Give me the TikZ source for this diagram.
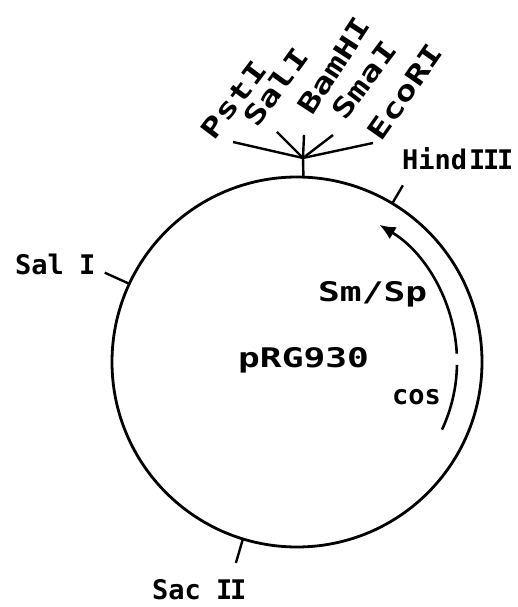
\documentclass[tikz,border=0pt]{standalone}
\usepackage{fontspec}
\usetikzlibrary{arrows.meta}
\newfontfamily\sitefont{DejaVu Sans Mono Bold}
\newfontfamily\widefont{DejaVu Sans Mono Bold}[FakeStretch=1.34]
\newcommand\nI{\makebox[14pt]{I}}

\begin{document}
\begin{tikzpicture}[
  x = 1pt, y = 1pt,
  ring/.style = {draw, circle, line width=2.8pt, minimum size=370pt,
                 inner sep=0pt, outer sep=0pt},
  tick/.style = {draw, line width=2.4pt},
  gene/.style = {draw, line width=2.6pt},
  site/.style = {font=\fontsize{27}{30}\selectfont\sitefont, inner sep=0pt},
  wide/.style = {font=\fontsize{27}{30}\selectfont\widefont, inner sep=0pt},
]

\useasboundingbox (0, 0) rectangle (517, 607);

\node[ring] (plasmid) at (297, 245) {};
\node[wide, anchor=base west] (name) at (238, 239) {pRG930};

% single sites
\node[site, anchor=base west] (hind) at (402, 437) {Hind\kern3pt\nI\nI\nI};
\node[site, anchor=base west] (sal)  at (15, 332)  {Sal\ \nI};
\node[site, anchor=base west] (sac)  at (152, 7)   {Sac\ \nI\nI};
\draw[tick] (plasmid.59.6)  -- ++(59.6:21);
\draw[tick] (plasmid.155.6) -- ++(155.6:27);
\draw[tick] (plasmid.253.7) -- ++(253.7:25);

% polylinker
\coordinate (hub) at (303, 449);
\draw[tick] (plasmid.88) -- (hub);
\foreach \site/\tx/\ty/\cx/\cy/\rot/\label in {%
    pst/233/465/234/507/53/{Pst\kern2pt I},
    salb/277/475/276/520/54/{Sal\kern2pt I},
    bam/304/472/334/541/57/{BamHI},
    sma/333/472/364/527/53/{Sma\kern2pt I},
    eco/373/464/405/515/55/{EcoRI}%
  }{%
    \coordinate (tip\site) at (\tx, \ty);
    \draw[tick] (hub) -- (tip\site);
    \node[wide, rotate=\rot] (\site) at (\cx, \cy) {\label};
  }

% resistance gene and cos
\node[wide, anchor=base west] (smsp) at (318, 305) {Sm/Sp};
\node[site, anchor=base west] (cos)  at (392, 202) {cos};
\draw[gene, -{Latex[length=16pt, width=14pt]}]
  ([shift={(3:160)}]plasmid.center) arc[start angle=3, end angle=59, radius=160];
\draw[gene]
  ([shift={(-1:160)}]plasmid.center) arc[start angle=-1, end angle=-25, radius=160];

\end{tikzpicture}
\end{document}
